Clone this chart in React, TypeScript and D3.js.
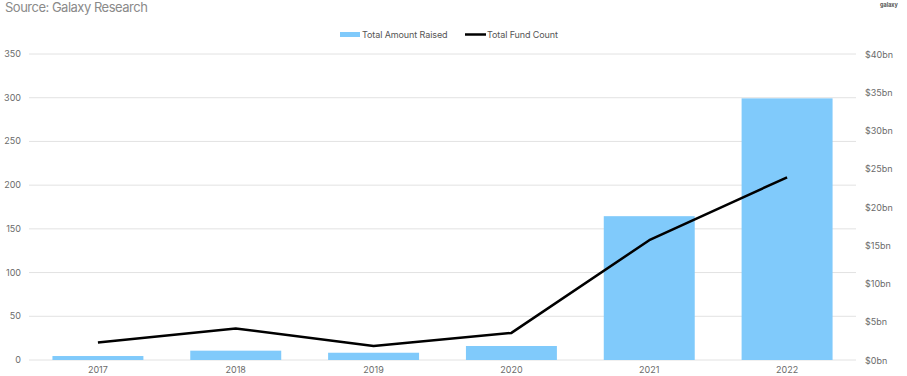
import React from "react";
import * as d3 from "d3";

const years = ["2017", "2018", "2019", "2020", "2021", "2022"];
const amountRaisedBn = [0.52, 1.22, 0.95, 1.83, 18.8, 34.2];
const fundCount = [20, 36, 16, 31, 137, 209];
const leftTicks = [0, 50, 100, 150, 200, 250, 300, 350];
const rightTicks = [0, 5, 10, 15, 20, 25, 30, 35, 40];

const W = 907;
const H = 376;
const plotLeft = 29;
const plotRight = 856;
const plotTop = 54;
const plotBottom = 360;
const FONT = "Inter, 'Open Sans', sans-serif";
const TEXT = "#6b6b6b";

export default function App() {
  const x = d3.scaleBand<string>().domain(years).range([plotLeft, plotRight]).paddingInner(0.34).paddingOuter(0.17);
  const xc = d3.scaleBand<string>().domain(years).range([plotLeft, plotRight]).padding(0);
  const yLeft = d3.scaleLinear().domain([0, 350]).range([plotBottom, plotTop]);
  const yRight = d3.scaleLinear().domain([0, 40]).range([plotBottom, plotTop]);

  const line = d3
    .line<number>()
    .x((_, i) => (xc(years[i]) as number) + xc.bandwidth() / 2)
    .y((d) => yLeft(d));

  return (
    <svg width={W} height={H} style={{ position: "absolute", left: 0, top: 0, background: "#fff" }} fontFamily={FONT}>
      <text x={5} y={12} fontSize={13} fill="#8a8a8a" letterSpacing={-0.5}>Source: Galaxy Research</text>
      <text x={880} y={7} fontSize={5.5} fontWeight={700} fill="#555">galaxy</text>

      {/* legend */}
      <rect x={340} y={32} width={20} height={5} fill="#80CAFB" />
      <text x={362} y={37.5} fontSize={9} fill="#555" letterSpacing={-0.1}>Total Amount Raised</text>
      <line x1={465} x2={486} y1={34.5} y2={34.5} stroke="#000" strokeWidth={2.5} />
      <text x={487} y={37.5} fontSize={9} fill="#555" letterSpacing={-0.1}>Total Fund Count</text>

      {/* gridlines + left axis */}
      {leftTicks.map((t) => (
        <g key={t}>
          <line x1={plotLeft} x2={plotRight} y1={yLeft(t)} y2={yLeft(t)} stroke="#e2e2e2" strokeWidth={1} />
          <text x={21} y={yLeft(t) + 3} fontSize={9} fill={TEXT} textAnchor="end">{t}</text>
        </g>
      ))}

      {/* right axis */}
      {rightTicks.map((t) => (
        <text key={t} x={865} y={yRight(t) + 3.5} fontSize={9} fill={TEXT}>{`$${t}bn`}</text>
      ))}

      {/* bars */}
      {years.map((yr, i) => (
        <rect
          key={yr}
          x={x(yr) as number}
          y={yRight(amountRaisedBn[i])}
          width={x.bandwidth()}
          height={plotBottom - yRight(amountRaisedBn[i])}
          fill="#80CAFB"
        />
      ))}

      {/* line */}
      <path d={line(fundCount) || ""} fill="none" stroke="#000" strokeWidth={2.5} strokeLinejoin="round" />

      {/* x labels */}
      {years.map((yr) => (
        <text key={yr} x={(xc(yr) as number) + xc.bandwidth() / 2} y={373} fontSize={9} fill={TEXT} textAnchor="middle">{yr}</text>
      ))}
    </svg>
  );
}
